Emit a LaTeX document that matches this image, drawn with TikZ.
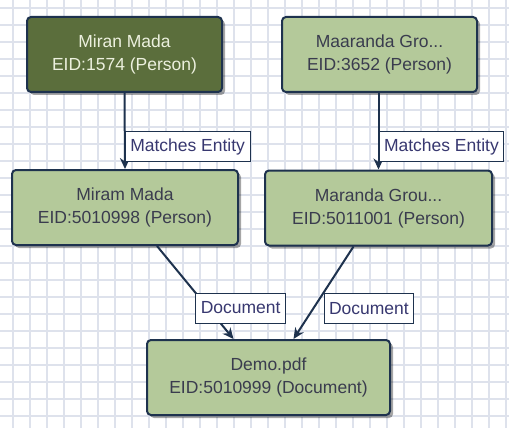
\documentclass[tikz,border=0pt]{standalone}
\usepackage{fontspec}
\setmainfont{Liberation Sans}
\usetikzlibrary{arrows.meta,shadows}
\definecolor{boxlight}{RGB}{180,201,154}
\definecolor{boxdark}{RGB}{91,110,60}
\definecolor{boxline}{RGB}{30,50,78}
\definecolor{gridgray}{RGB}{222,226,236}
\definecolor{txtdark}{RGB}{58,60,78}
\definecolor{txtlabel}{RGB}{56,56,112}
\definecolor{txtlight}{RGB}{236,240,222}

\begin{document}
\begin{tikzpicture}[x=1pt,y=-1pt, % coordenadas en pixeles, y hacia abajo
  entity/.style={draw=boxline,line width=2pt,fill=boxlight,rounded corners=4pt,
    text=txtdark,align=center,minimum height=75pt,inner sep=0pt,
    font=\fontsize{17.5}{23}\selectfont,
    drop shadow={shadow xshift=3pt,shadow yshift=-3pt,opacity=0.35,fill=black}},
  entitydark/.style={entity,fill=boxdark,text=txtlight},
  relbox/.style={draw=boxline,line width=1pt,fill=white,text=txtlabel,
    inner xsep=5pt,inner ysep=0pt,minimum height=30pt,
    font=\fontsize{17.5}{21}\selectfont},
  rel/.style={draw=boxline,line width=2pt,-{Stealth[length=11pt,width=10pt]}},
  gridline/.style={draw=gridgray,line width=1.5pt}]
  \useasboundingbox (0,0) rectangle (509,428);
  \fill[white] (0,0) rectangle (509,428);
  \foreach \x in {13,30,...,506} \draw[gridline] (\x,0) -- (\x,428);
  \foreach \y in {8,25,...,425} \draw[gridline] (0,\y) -- (509,\y);

  \node[entitydark,minimum width=195pt] (miran) at (124.5,54.5) {Miran Mada\\EID:1574 (Person)};
  \node[entity,minimum width=195pt] (maaranda) at (379.5,54.5) {Maaranda Gro...\\EID:3652 (Person)};
  \node[entity,minimum width=226pt] (miram) at (125,207.5) {Miram Mada\\EID:5010998 (Person)};
  \node[entity,minimum width=227pt] (maranda) at (378.5,208) {Maranda Grou...\\EID:5011001 (Person)};
  \node[entity,minimum width=243pt] (demo) at (268.5,377.5) {Demo.pdf\\EID:5010999 (Document)};

  \draw[rel] (miran.south) -- node[relbox,pos=0.5,anchor=north west] {Matches Entity} (miram.north);
  \draw[rel] ([xshift=-1pt]maaranda.south) -- node[relbox,pos=0.5,anchor=north west] {Matches Entity} (maranda.north);
  \draw[rel] ([xshift=32pt]miram.south) -- node[relbox,pos=0.5,anchor=north west] {Document} ([xshift=-35pt]demo.north);
  \draw[rel] ([xshift=-25pt]maranda.south) -- node[relbox,pos=0.5,anchor=north west] {Document} ([xshift=25pt]demo.north);
\end{tikzpicture}
\end{document}
